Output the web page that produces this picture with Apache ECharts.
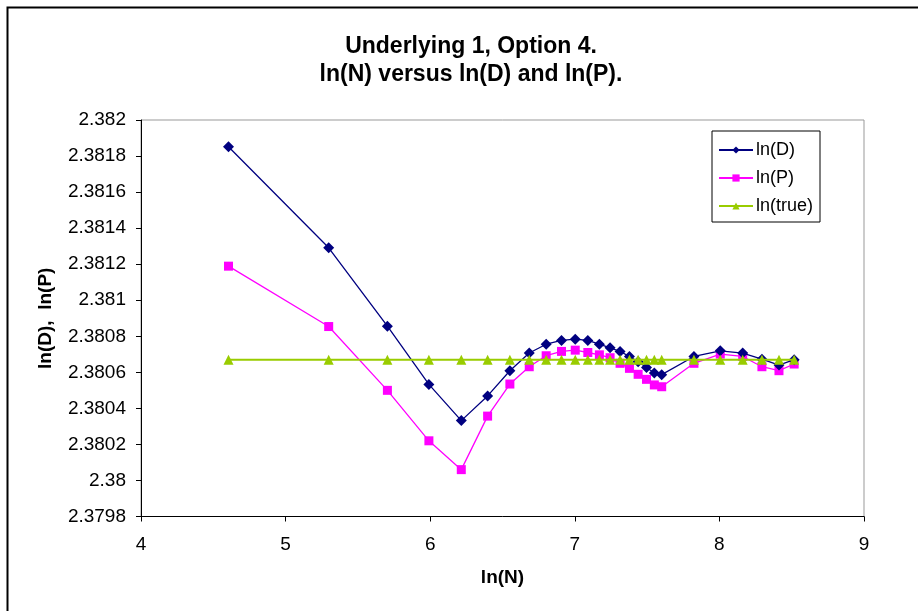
<!DOCTYPE html>
<html lang="en">

<head>
    <meta charset="UTF-8">
    <title>Underlying 1, Option 4</title>
    <script src="https://cdn.jsdelivr.net/npm/echarts@6/dist/echarts.min.js"></script>
    <style>
        html, body {
            margin: 0;
            padding: 0;
            background: #fff;
        }
        #chart {
            width: 918px;
            height: 611px;
        }
    </style>
</head>

<body>
    <div id="chart"></div>

    <script>
        // ln(N) values along the x axis
        var lnN = [4.605, 5.298, 5.704, 5.991, 6.215, 6.397, 6.551, 6.685, 6.802, 6.908,
            7.003, 7.09, 7.17, 7.244, 7.313, 7.378, 7.438, 7.496, 7.55, 7.601,
            7.824, 8.006, 8.161, 8.294, 8.412, 8.517];

        var lnD = [2.381852, 2.381291, 2.380856, 2.380533, 2.380332, 2.380469, 2.380609, 2.380707, 2.380756, 2.380777,
            2.380784, 2.380777, 2.380756, 2.380736, 2.380716, 2.380688, 2.380659, 2.380627, 2.380596, 2.380587,
            2.380688, 2.380719, 2.380707, 2.380673, 2.380640, 2.380670];

        var lnP = [2.381189, 2.380854, 2.380500, 2.380220, 2.380060, 2.380357, 2.380535, 2.380631, 2.380692, 2.380716,
            2.380723, 2.380710, 2.380697, 2.380681, 2.380650, 2.380622, 2.380589, 2.380561, 2.380530, 2.380520,
            2.380650, 2.380701, 2.380688, 2.380631, 2.380609, 2.380646];

        var lnTrue = 2.38067;

        function pairs(xs, ys) {
            return xs.map(function (x, i) {
                return [x, Array.isArray(ys) ? ys[i] : ys];
            });
        }

        var font = 'Liberation Sans, Arial, sans-serif';
        var chart = echarts.init(document.getElementById('chart'));

        chart.setOption({
            animation: false,
            textStyle: { fontFamily: font },
            graphic: [{
                type: 'rect',
                shape: { x: 7.5, y: 7.5, width: 930, height: 630 },
                style: { fill: 'none', stroke: '#000', lineWidth: 2 }
            }],
            title: {
                text: 'Underlying 1, Option 4.\nln(N) versus ln(D) and ln(P).',
                left: 466,
                top: 28,
                textAlign: 'center',
                textStyle: {
                    fontFamily: font,
                    fontSize: 23,
                    fontWeight: 'bold',
                    lineHeight: 28,
                    color: '#000'
                }
            },
            legend: {
                orient: 'vertical',
                left: 712,
                top: 131,
                padding: [10, 7, 7, 6],
                itemGap: 10,
                itemWidth: 34,
                itemHeight: 9,
                borderColor: '#000',
                borderWidth: 1,
                textStyle: { fontFamily: font, fontSize: 18, color: '#000', padding: [0, 0, 0, -2] },
                data: ['ln(D)', 'ln(P)', 'ln(true)']
            },
            grid: {
                left: 141,
                right: 54,
                top: 120,
                bottom: 94.5,
                show: true,
                borderColor: '#999',
                borderWidth: 1
            },
            xAxis: {
                type: 'value',
                min: 4,
                max: 9,
                interval: 1,
                name: 'ln(N)',
                nameLocation: 'middle',
                nameGap: 52,
                nameTextStyle: { fontFamily: font, fontSize: 19, fontWeight: 'bold', color: '#000' },
                axisLine: { lineStyle: { color: '#000', width: 1 } },
                axisTick: { length: 5, lineStyle: { color: '#000' } },
                axisLabel: { margin: 19, fontSize: 19, color: '#000', fontFamily: font },
                splitLine: { show: false }
            },
            yAxis: {
                type: 'value',
                min: 2.3798,
                max: 2.382,
                interval: 0.0002,
                name: 'ln(D),  ln(P)',
                nameLocation: 'middle',
                nameGap: 86,
                nameTextStyle: { fontFamily: font, fontSize: 19, fontWeight: 'bold', color: '#000' },
                axisLine: { show: true, lineStyle: { color: '#000', width: 1 } },
                axisTick: { show: true, length: 5, lineStyle: { color: '#000' } },
                axisLabel: {
                    margin: 15,
                    fontSize: 19,
                    color: '#000',
                    fontFamily: font,
                    formatter: function (v) {
                        return String(parseFloat(v.toFixed(4)));
                    }
                },
                splitLine: { show: false }
            },
            series: [{
                name: 'ln(D)',
                type: 'line',
                data: pairs(lnN, lnD),
                symbol: 'diamond',
                symbolSize: 11,
                z: 4,
                itemStyle: { color: '#000080' },
                lineStyle: { color: '#000080', width: 1.3 }
            }, {
                name: 'ln(P)',
                type: 'line',
                data: pairs(lnN, lnP),
                symbol: 'rect',
                symbolSize: 9,
                z: 3,
                itemStyle: { color: '#FF00FF' },
                lineStyle: { color: '#FF00FF', width: 1.3 }
            }, {
                name: 'ln(true)',
                type: 'line',
                data: pairs(lnN, lnTrue),
                symbol: 'triangle',
                symbolSize: 10,
                z: 5,
                itemStyle: { color: '#99CC00' },
                lineStyle: { color: '#99CC00', width: 2 }
            }]
        });
    </script>
</body>

</html>
